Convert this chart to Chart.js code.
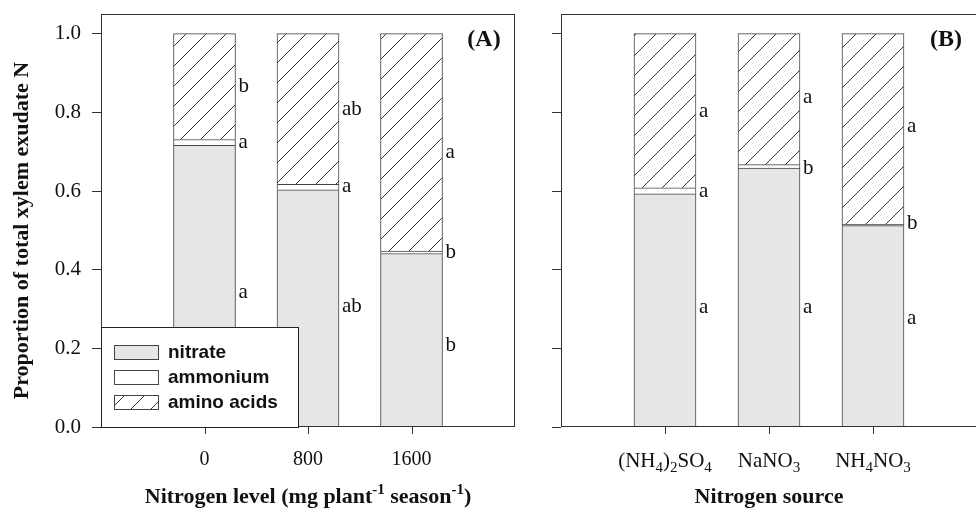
<!DOCTYPE html>
<html lang="en">
<head>
<meta charset="UTF-8" />
<title>Proportion of total xylem exudate N</title>
<script src="https://cdn.jsdelivr.net/npm/chart.js"></script>
<style>
  html, body { margin: 0; padding: 0; background: #fff; }
  #wrap { position: relative; width: 976px; height: 512px; overflow: hidden; }
  #boxA { position: absolute; left: 0; top: 0; width: 530px; height: 512px; }
  #boxB { position: absolute; left: 530px; top: 0; width: 448px; height: 512px; }
</style>
</head>
<body>
<div id="wrap">
  <div id="boxA"><canvas id="chartA" width="530" height="512"></canvas></div>
  <div id="boxB"><canvas id="chartB" width="448" height="512"></canvas></div>
</div>
<script>
// categories
const levelLabels = ['0', '800', '1600'];
const sourceLabels = ['(NH_{4})_{2}SO_{4}', 'NaNO_{3}', 'NH_{4}NO_{3}'];
const seriesNames = ['nitrate', 'ammonium', 'amino acids'];
const yTicks = [0, 0.2, 0.4, 0.6, 0.8, 1.0];

// panel A - nitrogen level
const nitrateA = [0.716, 0.603, 0.441];
const ammoniumA = [0.015, 0.014, 0.006];
const aminoA = [0.269, 0.383, 0.553];
// letters per bar: nitrate, ammonium, amino acids
const lettersA = [['a', 'a', 'b'], ['ab', 'a', 'ab'], ['b', 'b', 'a']];
const letterPosA = [[0.343, 0.723, 0.865], [0.307, 0.612, 0.807], [0.206, 0.444, 0.698]];

// panel B - nitrogen source
const nitrateB = [0.593, 0.658, 0.512];
const ammoniumB = [0.015, 0.009, 0.003];
const aminoB = [0.392, 0.333, 0.485];
const lettersB = [['a', 'a', 'a'], ['a', 'b', 'a'], ['a', 'b', 'a']];
const letterPosB = [[0.305, 0.599, 0.802], [0.305, 0.657, 0.838], [0.277, 0.518, 0.764]];

const SERIF = '"Liberation Serif", "Times New Roman", serif';
const SANS = '"Liberation Sans", Arial, sans-serif';
const INK = '#333';

function hatchPattern() {
  const c = document.createElement('canvas');
  c.width = 20; c.height = 20;
  const g = c.getContext('2d');
  g.fillStyle = '#fff';
  g.fillRect(0, 0, 20, 20);
  g.strokeStyle = '#333';
  g.lineWidth = 1;
  g.beginPath();
  for (const k of [-20, 0, 20]) {
    g.moveTo(k - 2, 22);
    g.lineTo(k + 22, -2);
  }
  g.stroke();
  return g.createPattern(c, 'repeat');
}
const hatch = hatchPattern();
const fills = ['#e6e6e6', '#ffffff', hatch];

// text with _{sub} and ^{sup}
function parseRich(s) {
  const parts = [];
  const re = /([_^])\{([^}]*)\}/g;
  let last = 0, m;
  while ((m = re.exec(s))) {
    if (m.index > last) parts.push({ t: s.slice(last, m.index), k: 0 });
    parts.push({ t: m[2], k: m[1] === '_' ? 1 : -1 });
    last = re.lastIndex;
  }
  if (last < s.length) parts.push({ t: s.slice(last), k: 0 });
  return parts;
}

function drawRich(ctx, s, x, y, size, bold) {
  const parts = parseRich(s);
  const w = bold ? 'bold ' : '';
  const fontFor = p => w + (p.k ? Math.round(size * 0.7) : size) + 'px ' + SERIF;
  let total = 0;
  parts.forEach(p => { ctx.font = fontFor(p); p.w = ctx.measureText(p.t).width; total += p.w; });
  let cx = x - total / 2;
  ctx.textAlign = 'left';
  ctx.textBaseline = 'alphabetic';
  parts.forEach(p => {
    ctx.font = fontFor(p);
    const dy = p.k === 1 ? size * 0.26 : (p.k === -1 ? -size * 0.42 : 0);
    ctx.fillText(p.t, cx, y + dy);
    cx += p.w;
  });
}

const panelPlugin = {
  id: 'panel',
  afterDraw(chart) {
    const o = chart.config.options.panel;
    const ctx = chart.ctx;
    const a = chart.chartArea;
    const ys = chart.scales.y;
    ctx.save();

    // frame
    ctx.strokeStyle = INK;
    ctx.lineWidth = 1;
    const L = Math.round(a.left) + 0.5, R = Math.round(a.right) - 0.5;
    const T = Math.round(a.top) + 0.5, B = Math.round(a.bottom) - 0.5;
    ctx.strokeRect(L, T, R - L, B - T);

    // x tick marks at the three categories
    ctx.fillStyle = INK;
    const meta = chart.getDatasetMeta(0);
    for (let i = 1; i <= 3; i++) {
      const px = Math.round(meta.data[i].x);
      ctx.fillRect(px, Math.round(a.bottom), 1, 7);
    }

    // significance letters
    ctx.fillStyle = '#111';
    ctx.font = '21px ' + SERIF;
    ctx.textAlign = 'left';
    ctx.textBaseline = 'middle';
    o.letters.forEach((row, i) => {
      const bar = meta.data[i + 1];
      const x = bar.x + bar.width / 2 + 3;
      row.forEach((t, j) => ctx.fillText(t, x, ys.getPixelForValue(o.letterPos[i][j])));
    });

    // panel tag
    ctx.font = 'bold 24px ' + SERIF;
    ctx.textAlign = 'center';
    ctx.fillText(o.tag, a.right - 31, a.top + 26);

    // x tick labels with subscripts
    if (o.richTicks) {
      o.richTicks.forEach((t, i) => drawRich(ctx, t, meta.data[i + 1].x, 467, 21, false));
    }

    // x title
    drawRich(ctx, o.xTitle, (a.left + a.right) / 2, 503, 22, true);

    // y title
    if (o.yTitle) {
      ctx.translate(22, (a.top + a.bottom) / 2 + 10);
      ctx.rotate(-Math.PI / 2);
      ctx.font = 'bold 22px ' + SERIF;
      ctx.textAlign = 'center';
      ctx.textBaseline = 'middle';
      ctx.fillText(o.yTitle, 0, 0);
      ctx.setTransform(1, 0, 0, 1, 0, 0);
    }

    // legend box
    if (o.legend) {
      const lx = a.left, ly = a.bottom - 100, lw = 197, lh = 100;
      ctx.fillStyle = '#fff';
      ctx.fillRect(lx, ly, lw, lh);
      ctx.strokeStyle = '#222';
      ctx.strokeRect(Math.round(lx) + 0.5, Math.round(ly) + 0.5, lw, lh);
      chart.data.datasets.forEach((ds, k) => {
        const cy = ly + 25 + k * 25;
        ctx.fillStyle = ds.backgroundColor;
        ctx.fillRect(lx + 13, cy - 7, 44, 14);
        ctx.strokeStyle = '#444';
        ctx.strokeRect(lx + 13.5, cy - 6.5, 44, 14);
        ctx.fillStyle = '#111';
        ctx.font = 'bold 19px ' + SANS;
        ctx.textAlign = 'left';
        ctx.textBaseline = 'middle';
        ctx.fillText(ds.label, lx + 67, cy + 1);
      });
    }
    ctx.restore();
  }
};

function noPad(s) {
  s.paddingTop = 0; s.paddingBottom = 0; s.paddingLeft = 0; s.paddingRight = 0;
}

function makeChart(id, labels, series, panel, showYLabels, yWidth) {
  const pad = v => [null, ...v, null];
  const cats = ['', ...labels, ''];
  const datasets = series.map((vals, k) => ({
    label: seriesNames[k],
    data: pad(vals),
    backgroundColor: fills[k],
    borderColor: '#444',
    borderWidth: 1,
    barThickness: 62
  }));
  return new Chart(document.getElementById(id), {
    type: 'bar',
    data: { labels: cats, datasets },
    options: {
      responsive: false,
      animation: false,
      layout: { padding: { top: 14, right: panel.padRight, left: 0, bottom: 0 } },
      plugins: { legend: { display: false }, tooltip: { enabled: false } },
      panel,
      scales: {
        x: {
          stacked: true,
          offset: false,
          border: { display: false },
          grid: { display: false, drawTicks: false },
          ticks: {
            maxRotation: 0,
            autoSkip: false,
            padding: 21,
            color: '#111',
            font: { family: SERIF, size: 20 },
            callback: (v, i) => panel.richTicks ? '' : cats[i]
          },
          afterFit: s => { s.height = 85; noPad(s); }
        },
        y: {
          stacked: true,
          min: 0,
          max: 1.05,
          border: { display: false },
          grid: { drawOnChartArea: false, tickLength: 9, tickColor: INK },
          afterBuildTicks: s => { s.ticks = yTicks.map(v => ({ value: v })); },
          ticks: {
            display: showYLabels,
            padding: 11,
            color: '#111',
            font: { family: SERIF, size: 21 },
            callback: v => v.toFixed(1)
          },
          afterFit: s => { s.width = yWidth; noPad(s); }
        }
      }
    },
    plugins: [panelPlugin]
  });
}

makeChart('chartA', levelLabels, [nitrateA, ammoniumA, aminoA], {
  tag: '(A)',
  letters: lettersA,
  letterPos: letterPosA,
  xTitle: 'Nitrogen level (mg plant^{-1} season^{-1})',
  yTitle: 'Proportion of total xylem exudate N',
  legend: true,
  padRight: 15
}, true, 101);

makeChart('chartB', sourceLabels, [nitrateB, ammoniumB, aminoB], {
  tag: '(B)',
  letters: lettersB,
  letterPos: letterPosB,
  xTitle: 'Nitrogen source',
  richTicks: sourceLabels,
  legend: false,
  padRight: 1
}, false, 31);
</script>
</body>
</html>
